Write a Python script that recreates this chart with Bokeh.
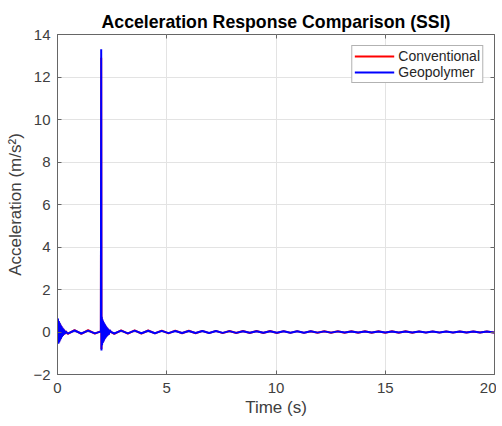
from bokeh.plotting import figure
from bokeh.models import FixedTicker, LinearAxis, Legend, LegendItem, Range1d
from bokeh.embed import file_html
from bokeh.resources import INLINE

# ---- data ----
x_ticks = [0, 5, 10, 15, 20]
y_ticks = [-2, 0, 2, 4, 6, 8, 10, 12, 14]

# burst at t = 0
burst0_t = [0.0, 0.02, 0.04, 0.06, 0.08, 0.10, 0.12, 0.14, 0.16, 0.18, 0.20,
            0.22, 0.24, 0.26, 0.28, 0.30, 0.33, 0.37]
geo_burst0 = [0.0, 0.64, -0.55, 0.52, -0.48, 0.44, -0.40, 0.35, -0.32, 0.28,
              -0.25, 0.21, -0.19, 0.16, -0.14, 0.11, -0.09, 0.03]
con_burst0 = [0.0, 0.60, -0.52, 0.49, -0.45, 0.41, -0.37, 0.33, -0.30, 0.26,
              -0.23, 0.20, -0.18, 0.15, -0.13, 0.10, -0.09, 0.04]

# slow oscillation between the two impacts
wave1_t = [0.47, 0.78, 1.09, 1.40, 1.71, 1.96]
geo_wave1 = [-0.075, 0.07, -0.07, 0.068, -0.066, 0.02]
con_wave1 = [-0.09, 0.085, -0.085, 0.082, -0.08, 0.03]

# impact at t = 2 s
burst2_t = [1.985, 2.0, 2.012, 2.025, 2.04, 2.055, 2.07, 2.085, 2.10, 2.115,
            2.13, 2.145, 2.16, 2.175, 2.19, 2.205, 2.22, 2.24, 2.26, 2.28,
            2.30, 2.32, 2.35, 2.39, 2.44]
geo_burst2 = [0.02, 13.3, -0.87, 0.72, -0.62, 0.60, -0.52, 0.52, -0.46, 0.46,
              -0.40, 0.40, -0.34, 0.35, -0.29, 0.30, -0.25, 0.25, -0.21, 0.20,
              -0.16, 0.15, -0.12, 0.09, 0.01]
con_burst2 = [0.02, 12.9, -0.80, 0.68, -0.58, 0.56, -0.49, 0.49, -0.43, 0.43,
              -0.37, 0.37, -0.32, 0.32, -0.27, 0.28, -0.23, 0.23, -0.19, 0.18,
              -0.15, 0.14, -0.11, 0.08, 0.01]

# decaying oscillation after the impact
wave2_t = [2.60, 2.91, 3.22, 3.53, 3.84, 4.15, 4.46, 4.77, 5.08, 5.39, 5.70,
           6.01, 6.32, 6.63, 6.94, 7.25, 7.56, 7.87, 8.18, 8.49, 8.80, 9.11,
           9.42, 9.73, 10.04, 10.35, 10.66, 10.97, 11.28, 11.59, 11.90, 12.21,
           12.52, 12.83, 13.14, 13.45, 13.76, 14.07, 14.38, 14.69, 15.00,
           15.31, 15.62, 15.93, 16.24, 16.55, 16.86, 17.17, 17.48, 17.79,
           18.10, 18.41, 18.72, 19.03, 19.34, 19.65, 19.96, 20.0]
geo_wave2 = [-0.07, 0.066, -0.064, 0.062, -0.06, 0.058, -0.056, 0.054, -0.052,
             0.05, -0.049, 0.047, -0.046, 0.045, -0.044, 0.043, -0.042, 0.041,
             -0.04, 0.039, -0.038, 0.037, -0.036, 0.035, -0.034, 0.034,
             -0.033, 0.032, -0.032, 0.031, -0.03, 0.03, -0.029, 0.029, -0.028,
             0.028, -0.027, 0.027, -0.026, 0.026, -0.026, 0.025, -0.025,
             0.025, -0.024, 0.024, -0.024, 0.023, -0.023, 0.023, -0.022,
             0.022, -0.022, 0.021, -0.021, 0.021, -0.02, -0.015]
con_wave2 = [-0.085, 0.08, -0.078, 0.075, -0.073, 0.07, -0.068, 0.066, -0.064,
             0.062, -0.06, 0.058, -0.056, 0.055, -0.054, 0.052, -0.051, 0.05,
             -0.049, 0.048, -0.047, 0.046, -0.045, 0.044, -0.043, 0.042,
             -0.041, 0.04, -0.04, 0.039, -0.038, 0.038, -0.037, 0.036, -0.036,
             0.035, -0.035, 0.034, -0.034, 0.033, -0.033, 0.032, -0.032,
             0.031, -0.031, 0.03, -0.03, 0.03, -0.029, 0.029, -0.029, 0.028,
             -0.028, 0.028, -0.027, 0.027, -0.027, -0.02]

t_all = burst0_t + wave1_t + burst2_t + wave2_t
geo_all = geo_burst0 + geo_wave1 + geo_burst2 + geo_wave2
con_all = con_burst0 + con_wave1 + con_burst2 + con_wave2

FONT = "Liberation Sans"
AX = "#404040"
LINE = "#666666"

p = figure(width=496, height=422, x_range=Range1d(0, 20), y_range=Range1d(-2, 14),
           output_backend="svg", toolbar_location=None,
           min_border_left=57, min_border_right=2, min_border_top=34,
           min_border_bottom=48,
           title="Acceleration Response Comparison (SSI)")

p.title.align = "center"
p.title.text_font = FONT
p.title.text_font_size = "17.7px"
p.title.text_font_style = "bold"
p.title.text_color = "#000000"
p.title.standoff = 6

r_con = p.line(t_all, con_all, line_color="#ff0000", line_width=2)
r_geo = p.line(t_all, geo_all, line_color="#0000ff", line_width=2)

p.outline_line_color = LINE
p.outline_line_width = 1

for ax in (p.xaxis[0], p.yaxis[0]):
    ax.major_label_text_font = FONT
    ax.major_label_text_font_size = "15px"
    ax.major_label_text_color = AX
    ax.axis_label_text_font = FONT
    ax.axis_label_text_font_size = "17px"
    ax.axis_label_text_font_style = "normal"
    ax.axis_label_text_color = AX
    ax.axis_line_color = LINE
    ax.major_tick_line_color = LINE
    ax.major_tick_in = 4
    ax.major_tick_out = 0
    ax.minor_tick_line_color = None

p.xaxis[0].ticker = FixedTicker(ticks=x_ticks)
p.yaxis[0].ticker = FixedTicker(ticks=y_ticks)
p.xaxis[0].axis_label = "Time (s)"
p.yaxis[0].axis_label = "Acceleration (m/s²)"
p.xaxis[0].major_label_standoff = 8
p.xaxis[0].axis_label_standoff = 2
p.yaxis[0].major_label_standoff = 7
p.yaxis[0].axis_label_standoff = 5

for side, tk in (("above", x_ticks), ("right", y_ticks)):
    a = LinearAxis(ticker=FixedTicker(ticks=tk))
    a.major_label_overrides = {t: "" for t in tk}
    a.major_label_text_font_size = "1px"
    a.major_label_standoff = 0
    a.axis_line_color = None
    a.major_tick_line_color = LINE
    a.major_tick_in = 4
    a.major_tick_out = 0
    a.minor_tick_line_color = None
    p.add_layout(a, side)

p.xgrid.ticker = FixedTicker(ticks=x_ticks)
p.ygrid.ticker = FixedTicker(ticks=y_ticks)
p.grid.grid_line_color = "#e3e3e3"

legend = Legend(items=[LegendItem(label="Conventional", renderers=[r_con]),
                       LegendItem(label="Geopolymer", renderers=[r_geo])],
                location="top_right")
legend.label_text_font = FONT
legend.label_text_font_size = "14px"
legend.label_text_color = "#262626"
legend.border_line_color = LINE
legend.border_line_width = 1
legend.background_fill_color = "white"
legend.background_fill_alpha = 1
legend.glyph_width = 40
legend.glyph_height = 16
legend.label_height = 16
legend.label_standoff = 4
legend.spacing = 0
legend.padding = 2
legend.margin = 11
p.add_layout(legend)

open("out.html", "w").write(file_html(p, INLINE))
